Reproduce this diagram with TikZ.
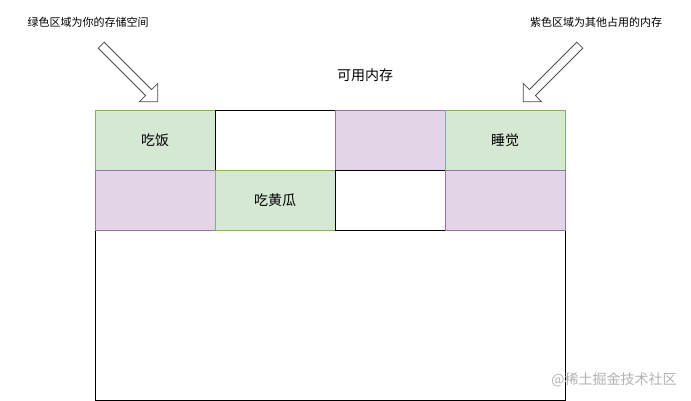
\documentclass[tikz,border=0pt]{standalone}
\usepackage{fontspec}
\setmainfont{Noto Sans CJK SC}
\usetikzlibrary{shapes.arrows}
\definecolor{gfill}{HTML}{D5E8D4}\definecolor{gline}{HTML}{82B366}
\definecolor{pfill}{HTML}{E1D5E7}\definecolor{pline}{HTML}{9673A6}
\begin{document}
\begin{tikzpicture}[x=1pt,y=-1pt,
  cell/.style={draw=black,line width=0.8pt},
  gcell/.style={fill=gfill,draw=gline,line width=0.8pt},
  pcell/.style={fill=pfill,draw=pline,line width=0.8pt},
  hollow/.style={single arrow,draw=black!70,fill=white,line width=0.8pt,minimum height=80pt,minimum width=26pt,single arrow head extend=5pt,inner sep=2pt},
  lbl/.style={font=\fontsize{14}{16}\selectfont},
  note/.style={font=\fontsize{11}{13}\selectfont}]
\useasboundingbox (0,0) rectangle (691,401);
\fill[white] (0,0) rectangle (691,401);
\draw[cell] (95,230) rectangle (565,400);
\draw[gcell] (95,110) rectangle (215,170);
\draw[cell] (215,110) rectangle (335,170);
\draw[pcell] (335,110) rectangle (445,170);
\draw[gcell] (445,110) rectangle (565,170);
\draw[pcell] (95,170) rectangle (215,230);
\draw[gcell] (215,170) rectangle (335,230);
\draw[cell] (335,170) rectangle (445,230);
\draw[pcell] (445,170) rectangle (565,230);
\node[lbl] (a) at (155,140) {吃饭};
\node[lbl] (b) at (505,140) {睡觉};
\node[lbl] (c) at (275,200) {吃黄瓜};
\node[lbl] (t) at (365,75) {可用内存};
\node[note] (l) at (88,22) {绿色区域为你的存储空间};
\node[note] (r) at (596,22) {紫色区域为其他占用的内存};
\node[hollow,rotate=-45] (al) at (128,72) {};
\node[hollow,rotate=-135] (ar) at (553,72) {};
\node[lbl,text=gray!60] (w) at (614,380) {@稀土掘金技术社区};
\end{tikzpicture}
\end{document}
